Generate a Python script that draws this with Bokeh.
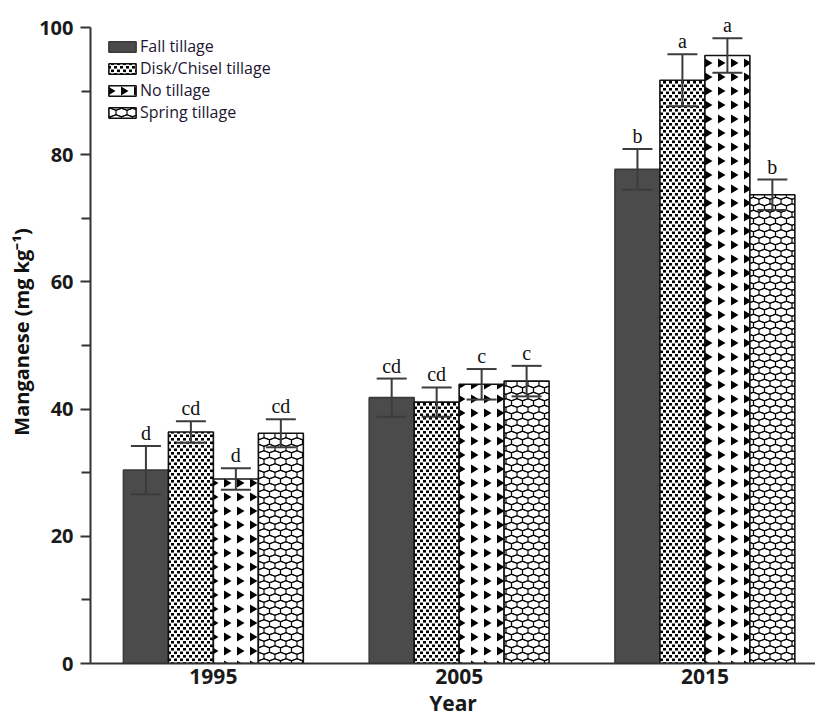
import base64

from bokeh.core.properties import value
from bokeh.embed import file_html
from bokeh.models import (ColumnDataSource, FixedTicker, ImageURLTexture,
                          Legend, LegendItem, Range1d)
from bokeh.plotting import figure
from bokeh.resources import INLINE

# ---- data -------------------------------------------------------------
years = ["1995", "2005", "2015"]
treatments = ["Fall tillage", "Disk/Chisel tillage", "No tillage", "Spring tillage"]

fall = [30.4, 41.8, 77.7]
fall_err = [3.8, 3.0, 3.2]
fall_letters = ["d", "cd", "b"]

disk = [36.4, 41.1, 91.7]
disk_err = [1.7, 2.3, 4.1]
disk_letters = ["cd", "cd", "a"]

notill = [29.0, 43.9, 95.6]
notill_err = [1.7, 2.4, 2.7]
notill_letters = ["d", "c", "a"]

spring = [36.2, 44.4, 73.7]
spring_err = [2.2, 2.4, 2.4]
spring_letters = ["cd", "c", "b"]

y_ticks = [0, 20, 40, 60, 80, 100]
y_minor = [10, 30, 50, 70, 90]
y_axis_max = 100


# ---- fill textures ----------------------------------------------------
def svg_texture(svg):
    url = "data:image/svg+xml;base64," + base64.b64encode(svg.encode()).decode()
    return ImageURLTexture(url=url)


dots_svg = (
    '<svg xmlns="http://www.w3.org/2000/svg" width="6" height="7">'
    '<rect x="0" y="0.5" width="3" height="2.6" fill="#000"/>'
    '<rect x="3" y="4" width="3" height="2.6" fill="#000"/>'
    '</svg>'
)

tri_svg = (
    '<svg xmlns="http://www.w3.org/2000/svg" width="13" height="14">'
    '<polygon points="3,2.5 10.5,7 3,11.5" fill="#000"/>'
    '</svg>'
)


def honeycomb_svg(w=11, row=6.5):
    hh = row / 0.75 / 2.0      # half height of a cell
    sh = hh / 2.0              # shoulder height
    centres = [(0, 0), (w, 0), (w / 2, row), (0, 2 * row), (w, 2 * row),
               (w / 2, -row), (w / 2, 3 * row)]
    polys = []
    for cx, cy in centres:
        pts = [(cx, cy - hh), (cx + w / 2, cy - sh), (cx + w / 2, cy + sh),
               (cx, cy + hh), (cx - w / 2, cy + sh), (cx - w / 2, cy - sh)]
        s = " ".join(f"{x:.2f},{y:.2f}" for x, y in pts)
        polys.append(
            f'<polygon points="{s}" fill="none" stroke="#000" stroke-width="1.15" '
            f'stroke-linejoin="round"/>'
        )
    return (
        f'<svg xmlns="http://www.w3.org/2000/svg" width="{w}" height="{int(2 * row)}">'
        + "".join(polys) + "</svg>"
    )


textures = {
    "dots": svg_texture(dots_svg),
    "tris": svg_texture(tri_svg),
    "mesh": svg_texture(honeycomb_svg()),
}

# ---- figure -----------------------------------------------------------
# the frame reaches the top edge so letters above the tallest bars stay
# visible; the y axis itself stops at 100
frame_h = 663
px_per_unit = 6.36
p = figure(
    width=815,
    height=720,
    x_range=Range1d(0.5, 3.45),
    y_range=Range1d(0, frame_h / px_per_unit),
    output_backend="svg",
    toolbar_location=None,
    min_border_left=90,
    min_border_right=0,
    min_border_top=0,
    min_border_bottom=57,
)
p.outline_line_color = None
p.grid.visible = False
p.background_fill_color = "white"

bar_w = 0.183
cap_w = 0.122
groups = [1, 2, 3]

series = [
    (fall, fall_err, fall_letters, "#4b4b4b", None),
    (disk, disk_err, disk_letters, "white", "dots"),
    (notill, notill_err, notill_letters, "white", "tris"),
    (spring, spring_err, spring_letters, "white", "mesh"),
]

legend_items = []
for k, (vals, errs, letters, fill, pattern) in enumerate(series):
    xs = [g + (k - 1.5) * bar_w for g in groups]
    src = ColumnDataSource(dict(
        x=xs,
        top=vals,
        lo=[v - e for v, e in zip(vals, errs)],
        hi=[v + e for v, e in zip(vals, errs)],
        cl=[x - cap_w / 2 for x in xs],
        cr=[x + cap_w / 2 for x in xs],
        letter=letters,
    ))
    hatch = {} if pattern is None else dict(hatch_pattern=value(pattern),
                                            hatch_extra=textures)
    bars = p.vbar(x="x", top="top", width=bar_w, source=src,
                  fill_color=fill,
                  line_color="#111111" if pattern else "#3a3a3a",
                  line_width=1.6, **hatch)
    legend_items.append(LegendItem(label=treatments[k], renderers=[bars]))

    # error bars
    p.segment(x0="x", y0="lo", x1="x", y1="hi", source=src,
              line_color="#3c3c3c", line_width=2)
    p.segment(x0="cl", y0="hi", x1="cr", y1="hi", source=src,
              line_color="#3c3c3c", line_width=2)
    p.segment(x0="cl", y0="lo", x1="cr", y1="lo", source=src,
              line_color="#3c3c3c", line_width=2)

    # significance letters
    p.text(x="x", y="hi", text="letter", source=src,
           text_align="center", text_baseline="bottom", y_offset=-2,
           text_font=value("Liberation Serif"), text_font_size="20px",
           text_color="#111111")

legend = Legend(items=legend_items, location=(15, 540))
legend.margin = 0
legend.padding = 0
legend.spacing = 0
legend.glyph_width = 34
legend.glyph_height = 13
legend.label_height = 21
legend.label_standoff = 1
legend.label_text_font = "Open Sans"
legend.label_text_font_size = "16px"
legend.label_text_color = "#221633"
legend.border_line_alpha = 0
legend.background_fill_alpha = 0
p.add_layout(legend)

# ---- axes -------------------------------------------------------------
xa = p.xaxis[0]
xa.ticker = FixedTicker(ticks=groups)
xa.major_label_overrides = {g: y for g, y in zip(groups, years)}
xa.major_tick_out = 0
xa.major_tick_in = 0
xa.minor_tick_out = 0
xa.minor_tick_in = 0
xa.axis_line_width = 2
xa.axis_line_color = "#333333"
xa.major_label_text_font = "Open Sans"
xa.major_label_text_font_style = "bold"
xa.major_label_text_font_size = "21px"
xa.major_label_text_color = "#1a1a1a"
xa.major_label_standoff = 5
xa.axis_label = "Year"
xa.axis_label_text_font = "Open Sans"
xa.axis_label_text_font_style = "bold"
xa.axis_label_text_font_size = "21px"
xa.axis_label_text_color = "#1a1a1a"
xa.axis_label_standoff = 2

ya = p.yaxis[0]
ya.bounds = (0, y_axis_max)
ya.ticker = FixedTicker(ticks=y_ticks, minor_ticks=y_minor)
ya.major_tick_out = 10
ya.major_tick_in = 0
ya.minor_tick_out = 9
ya.minor_tick_in = 0
ya.major_tick_line_width = 2
ya.minor_tick_line_width = 2
ya.major_tick_line_color = "#333333"
ya.minor_tick_line_color = "#333333"
ya.axis_line_width = 2
ya.axis_line_color = "#333333"
ya.major_label_text_font = "Open Sans"
ya.major_label_text_font_style = "bold"
ya.major_label_text_font_size = "20px"
ya.major_label_text_color = "#1a1a1a"
ya.major_label_standoff = 7
ya.axis_label = "Manganese (mg kg⁻¹)"
ya.axis_label_text_font = "Open Sans"
ya.axis_label_text_font_style = "bold"
ya.axis_label_text_font_size = "20px"
ya.axis_label_text_color = "#111111"
ya.axis_label_standoff = 1

open("out.html", "w").write(file_html(p, INLINE))
